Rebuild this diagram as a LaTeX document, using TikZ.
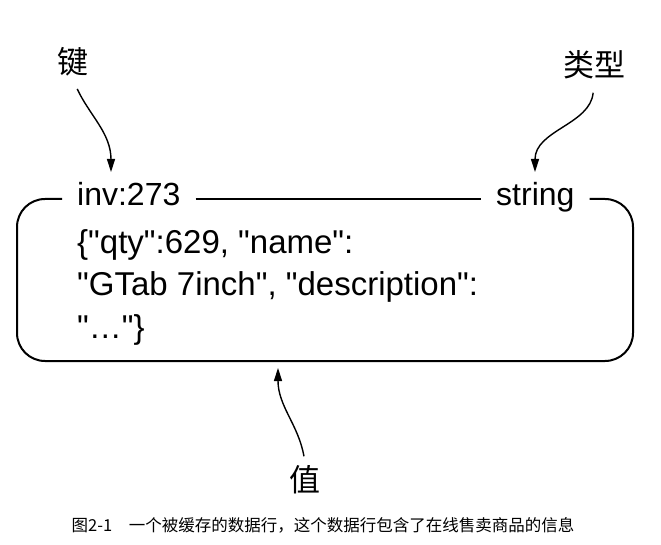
\documentclass[tikz,border=0pt]{standalone}
\usepackage{fontspec}
\setmainfont{Liberation Sans}[Ligatures=TeXOff]
\newfontfamily\cjk{Noto Sans CJK SC}
\usepackage{tikz}
\usetikzlibrary{positioning}
\usetikzlibrary{arrows.meta}
\tikzset{
	lbl/.style={font=\cjk\fontsize{31}{31}\selectfont},
	head/.style={font=\fontsize{32}{38}\selectfont, inner xsep=15pt, inner ysep=0pt, anchor=base west},
	code/.style={font=\fontsize{33}{40}\selectfont, inner sep=0pt, anchor=base west},
	arr/.style={line width=1.4pt, -{Triangle[length=13pt,width=8pt]}},
	rowline/.style={line width=2pt, rounded corners=28pt}
}
\begin{document}
\begin{tikzpicture}[x=1pt,y=1pt]
	\useasboundingbox (0,0) rectangle (661,544);
	% Labels above and below
	\node[lbl] at (73,482) (1key) {键};
	\node[lbl] at (594,479) (1type) {类型};
	\node[lbl] at (305,64) (4value) {值};
	
	% Header of the cached row
	\node[head] at (62,338) (2inv) {inv:273};
	\node[head] at (481,338) (2string) {string};
	
	% Value lines
	\node[code] at (77,290) (3line1) {\{"qty":629, "name":};
	\node[code, below=42pt of 3line1.base west, anchor=base west] (3line2) {"GTab 7inch", "description":};
	\node[code, below=42pt of 3line2.base west, anchor=base west] (3line3) {"…"\}};
	
	% Frame of the row
	\draw[rowline] ([yshift=7pt]2inv.base west) -- (17,345) -- (17,183) -- (633,183) -- (633,345) -- ([yshift=7pt]2string.base east);
	\draw[line width=2pt] ([yshift=7pt]2inv.base east) -- ([yshift=7pt]2string.base west);
	
	% Arrows
	\coordinate (2invtip) at (111,372);
	\coordinate (2stringtip) at (535,372);
	\coordinate (3rowtip) at (278,176);
	\draw[arr, shorten <=10pt] (1key.south) to[out=-65,in=90] (2invtip);
	\draw[arr, shorten <=10pt] (1type.south) to[out=-95,in=90] (2stringtip);
	\draw[arr, shorten <=6pt] (4value.north) to[out=100,in=-90] (3rowtip);
	
	% Caption
	\node[font=\cjk\fontsize{16.5}{17}\selectfont] at (323,19) (5caption) {图2-1\hspace{1em}一个被缓存的数据行，这个数据行包含了在线售卖商品的信息};
\end{tikzpicture}
\end{document}
